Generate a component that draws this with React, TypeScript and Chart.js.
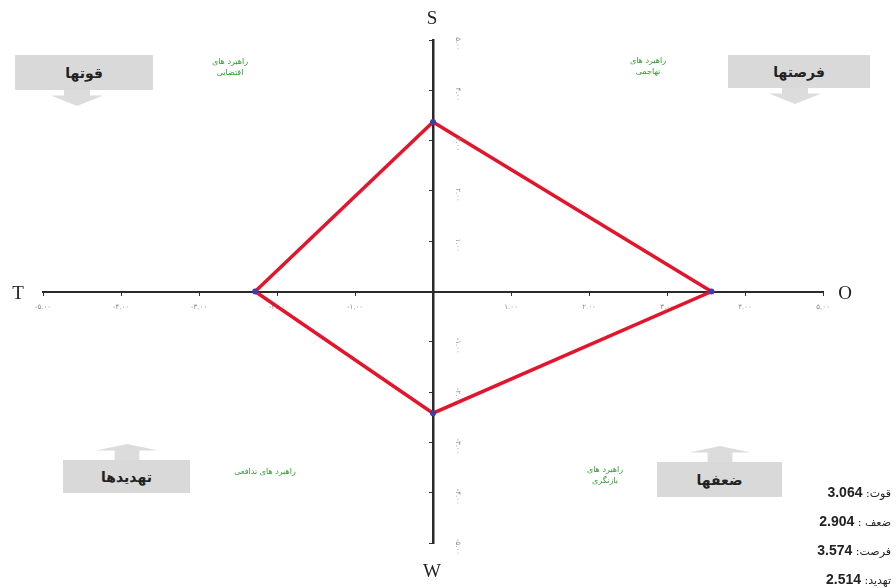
import React, { useEffect, useRef } from 'react';
import { Chart, registerables } from 'chart.js';

Chart.register(...registerables);

// ---- data ----
const pointNames = ['S', 'O', 'W', 'T', 'S'];
const pointX = [0, 3.57, 0, -2.28, 0];
const pointY = [3.37, 0, -2.42, 0, 3.37];
const axisMin = -5;
const axisMax = 5;
const tickStep = 1;
const scoreNames = ['قوت:', 'ضعف :', 'فرصت:', 'تهدید:'];
const scoreValues = ['3.064', '2.904', '3.574', '2.514'];
const quadrantTitles = ['قوتها', 'فرصتها', 'تهدیدها', 'ضعفها'];
const strategyLabels = ['راهبرد های اقتضایی', 'راهبرد های تهاجمی', 'راهبرد های تدافعی', 'راهبرد های بازنگری'];

const faDigits = (s: string) => s.replace(/\d/g, (d) => '۰۱۲۳۴۵۶۷۸۹'[+d]);
const fmtTick = (v: number) => (v === 0 ? '' : faDigits(Number(v).toFixed(2)));

const yLabelPlugin = {
  id: 'yLabels',
  afterDraw(chart: any) {
    const { ctx } = chart;
    const xs = chart.scales.x;
    const ys = chart.scales.y;
    const x0 = xs.getPixelForValue(0);
    ctx.save();
    ctx.fillStyle = '#8a8a8a';
    ctx.font = '7px "DejaVu Sans"';
    ctx.textAlign = 'center';
    ctx.textBaseline = 'middle';
    ys.ticks.forEach((t: any) => {
      if (t.value === 0) return;
      const py = ys.getPixelForValue(t.value) + 4;
      ctx.save();
      ctx.translate(x0 + 25, py);
      ctx.rotate(Math.PI / 2);
      ctx.fillText(fmtTick(t.value), 0, 0);
      ctx.restore();
    });
    ctx.restore();
  },
};

const boxStyle = (left: number, top: number, width: number, height: number): React.CSSProperties => ({
  position: 'absolute',
  left,
  top,
  width,
  height,
  background: '#d9d9d9',
  display: 'flex',
  alignItems: 'center',
  justifyContent: 'center',
  fontFamily: '"DejaVu Sans", sans-serif',
  fontWeight: 'bold',
  fontSize: 14,
  color: '#222',
  direction: 'rtl',
});

const downArrow = (cx: number, top: number): React.CSSProperties => ({
  position: 'absolute',
  left: cx - 26,
  top,
  width: 52,
  height: 16,
  background: '#dcdcdc',
  clipPath: 'polygon(25% 0, 75% 0, 75% 35%, 100% 35%, 50% 100%, 0 35%, 25% 35%)',
});

const upArrow = (cx: number, top: number): React.CSSProperties => ({
  position: 'absolute',
  left: cx - 31,
  top,
  width: 62,
  height: 16,
  background: '#dcdcdc',
  clipPath: 'polygon(50% 0, 100% 40%, 70% 40%, 70% 100%, 30% 100%, 30% 40%, 0 40%)',
});

const greenStyle = (cx: number, top: number, width: number): React.CSSProperties => ({
  position: 'absolute',
  left: cx - width / 2,
  top,
  width,
  textAlign: 'center',
  fontFamily: '"DejaVu Sans", sans-serif',
  fontSize: 8,
  lineHeight: '11px',
  color: '#2e9a2e',
  direction: 'rtl',
});

const letterStyle = (cx: number, cy: number): React.CSSProperties => ({
  position: 'absolute',
  left: cx - 15,
  top: cy - 11,
  width: 30,
  height: 22,
  lineHeight: '22px',
  textAlign: 'center',
  fontFamily: '"Liberation Serif", serif',
  fontSize: 19,
  color: '#222',
});

export default function App() {
  const canvasRef = useRef<HTMLCanvasElement | null>(null);

  useEffect(() => {
    if (!canvasRef.current) return;
    const chart = new Chart(canvasRef.current, {
      type: 'scatter',
      data: {
        labels: pointNames,
        datasets: [
          {
            data: pointX.map((x, i) => ({ x, y: pointY[i] })),
            showLine: true,
            borderColor: '#e3152c',
            borderWidth: 3.5,
            pointRadius: [3, 3, 3, 3, 0],
            pointBackgroundColor: '#3b3fa8',
            pointBorderWidth: 0,
            clip: false,
          } as any,
        ],
      },
      options: {
        responsive: false,
        animation: false,
        layout: { padding: { left: 43, right: 73, top: 40, bottom: 45 } },
        plugins: { legend: { display: false }, tooltip: { enabled: false } },
        scales: {
          x: {
            type: 'linear',
            min: axisMin,
            max: axisMax,
            position: { y: 0 } as any,
            grid: { drawOnChartArea: false, drawTicks: true, tickLength: 3, color: '#333', lineWidth: 1 },
            border: { display: true, color: '#2a2a2a', width: 2 },
            ticks: {
              stepSize: tickStep,
              autoSkip: false,
              maxRotation: 0,
              padding: 8,
              color: '#8a8a8a',
              font: { size: 7, family: 'DejaVu Sans' },
              callback: (v: any) => fmtTick(Number(v)),
            },
          },
          y: {
            type: 'linear',
            min: axisMin,
            max: axisMax,
            position: { x: 0 } as any,
            grid: { drawOnChartArea: false, drawTicks: true, tickLength: 3, color: '#333', lineWidth: 1 },
            border: { display: true, color: '#2a2a2a', width: 2.5 },
            ticks: { stepSize: tickStep, display: false },
          },
        },
      },
      plugins: [yLabelPlugin],
    });
    return () => chart.destroy();
  }, []);

  return (
    <div style={{ position: 'fixed', left: 0, top: 0, width: 896, height: 588, background: '#fff', overflow: 'hidden' }}>
      <canvas ref={canvasRef} width={896} height={588} style={{ display: 'block', position: 'absolute', left: 0, top: 0 }} />

      <div style={letterStyle(432, 18)}>S</div>
      <div style={letterStyle(432, 571)}>W</div>
      <div style={letterStyle(18, 293)}>T</div>
      <div style={letterStyle(845, 293)}>O</div>

      <div style={boxStyle(15, 55, 138, 35)}>{quadrantTitles[0]}</div>
      <div style={downArrow(77, 90)} />
      <div style={boxStyle(728, 55, 142, 33)}>{quadrantTitles[1]}</div>
      <div style={downArrow(795, 88)} />
      <div style={upArrow(127, 444)} />
      <div style={boxStyle(63, 460, 127, 33)}>{quadrantTitles[2]}</div>
      <div style={upArrow(720, 446)} />
      <div style={boxStyle(657, 462, 125, 35)}>{quadrantTitles[3]}</div>

      <div style={greenStyle(230, 56, 62)}>{strategyLabels[0]}</div>
      <div style={greenStyle(648, 55, 62)}>{strategyLabels[1]}</div>
      <div style={{ ...greenStyle(265, 466, 110), whiteSpace: 'nowrap' }}>{strategyLabels[2]}</div>
      <div style={greenStyle(605, 464, 62)}>{strategyLabels[3]}</div>

      {scoreNames.map((name, i) => (
        <div
          key={name}
          style={{
            position: 'absolute',
            right: 5,
            top: 483 + i * 29,
            direction: 'rtl',
            whiteSpace: 'nowrap',
            fontFamily: '"DejaVu Sans", sans-serif',
            fontSize: 11,
            lineHeight: '18px',
            color: '#222',
          }}
        >
          {name}{' '}
          <span style={{ fontFamily: '"Liberation Sans", Arial, sans-serif', fontWeight: 'bold', fontSize: 14, letterSpacing: 0.5 }}>
            {scoreValues[i]}
          </span>
        </div>
      ))}
    </div>
  );
}
